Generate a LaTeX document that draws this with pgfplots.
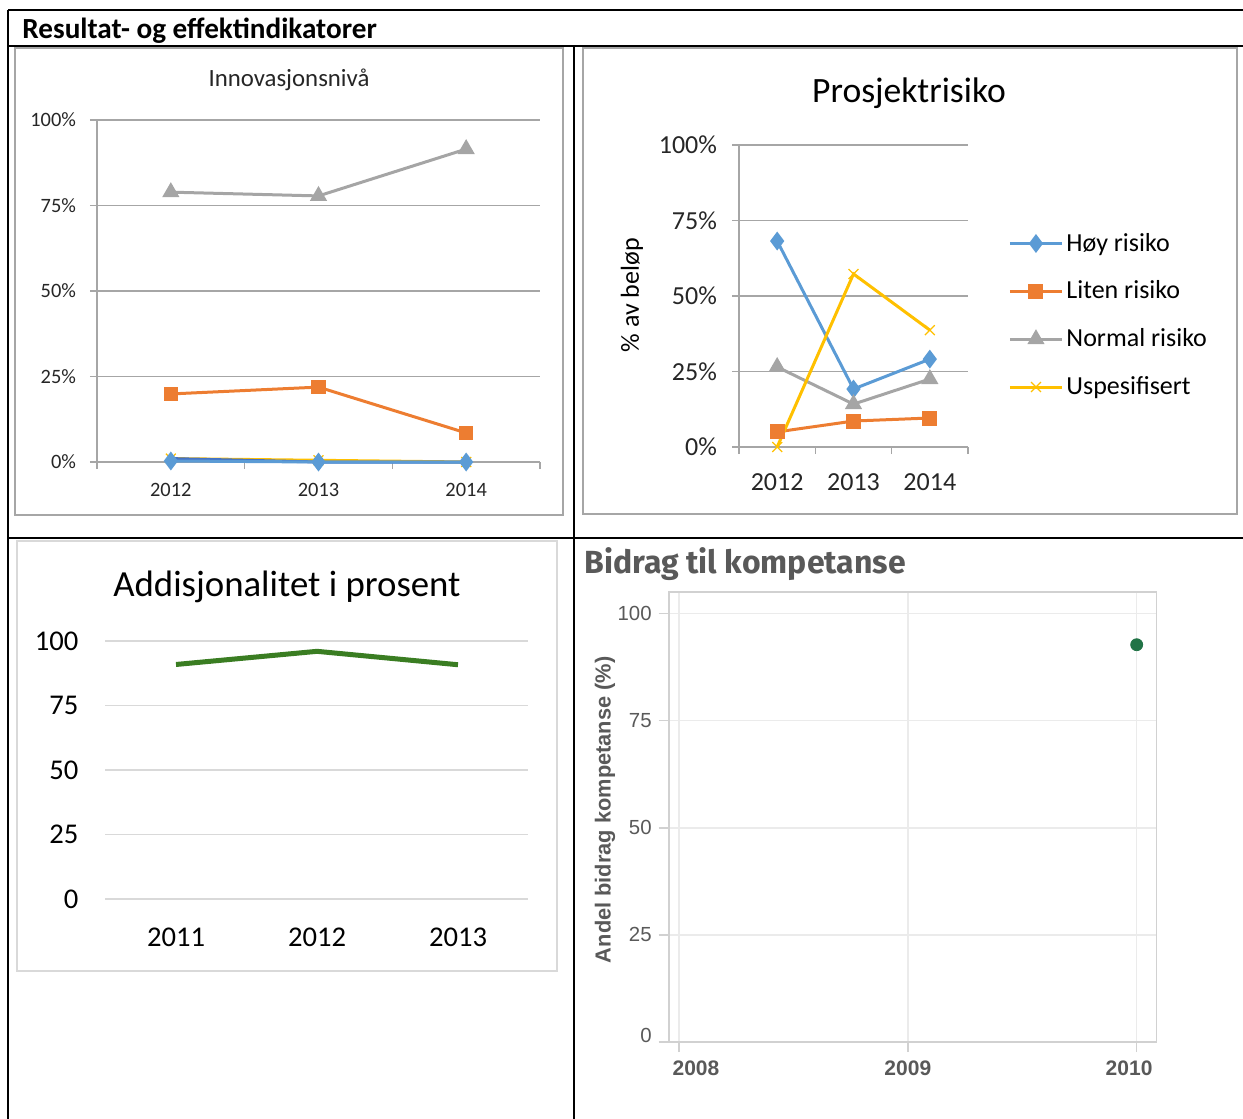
\documentclass[border=0pt]{standalone}
\usepackage{pgfplots}
\pgfplotsset{compat=1.18}
\usepackage{fontspec}
\setmainfont{Carlito}
\newfontfamily\arialfont{Liberation Sans}
\newfontfamily\firafont{Fira Sans}
\definecolor{xblue}{HTML}{5B9BD5}
\definecolor{xorange}{HTML}{ED7D31}
\definecolor{xgray}{HTML}{A5A5A5}
\definecolor{xyellow}{HTML}{FFC000}
\definecolor{xdblue}{HTML}{4472C4}
\definecolor{addgreen}{HTML}{3A7D22}
\definecolor{dotgreen}{HTML}{217346}
\definecolor{tgray}{HTML}{595959}
\definecolor{gridA}{HTML}{A6A6A6}
\newcommand{\fs}[1]{\fontsize{#1}{#1}\selectfont}
\pgfplotsset{
  xlline/.style={line width=1.5pt, mark options={solid}},
  legend image code/.code={\draw[mark repeat=2,mark phase=2,#1] plot coordinates {(0pt,0pt)(13pt,0pt)(26pt,0pt)};}
}
\begin{document}
\begin{tikzpicture}
\useasboundingbox (0,0) rectangle (621.5pt,-559.5pt);
\begin{scope}[x=0.5pt,y=-0.5pt]
 \draw[line width=1pt] (8,10) -- (1243,10);
 \draw[line width=1pt] (8,46) -- (1243,46);
 \draw[line width=1pt] (8,10) -- (8,1119);
 \draw[line width=1pt] (574,46) -- (574,1119);
 \draw[line width=1pt] (8,538) -- (1243,538);
 \draw[gridA, line width=0.6pt] (15,48) rectangle (563,515);
 \draw[gridA, line width=0.6pt] (583,48) rectangle (1237,514);
 \draw[black!15, line width=1.2pt] (17,541) rectangle (557,971);
 \node[anchor=base west, font=\bfseries\fs{14.6}, inner sep=0] at (22,38.5) {Resultat- og effektindikatorer};
 \node[font=\fs{12.4}, text=black!85] at (289,80) {Innovasjonsnivå};
 \node[font=\fs{17.8}] at (909,93) {Prosjektrisiko};
 \node[font=\fs{18.4}] at (287,587) {Addisjonalitet i prosent};
 \node[anchor=base west, font=\firafont\bfseries\fs{16}, text=tgray, inner sep=0] at (584,573) {Bidrag til kompetanse};
\end{scope}

% Panel 1
\begin{axis}[
  at={(48.5pt,-231pt)}, anchor=south west,
  scale only axis, width=221.5pt, height=171pt,
  xmin=-0.5, xmax=2.5, ymin=0, ymax=100,
  axis x line*=bottom, axis y line*=left,
  axis line style={gridA, line width=0.6pt},
  xtick={-0.5,0.5,1.5,2.5}, xticklabels={},
  extra x ticks={0,1,2}, extra x tick labels={2012,2013,2014},
  extra x tick style={major tick length=0pt},
  ytick={0,25,50,75,100}, yticklabels={0\%,25\%,50\%,75\%,100\%},
  ymajorgrids, grid style={gridA, line width=0.6pt},
  tick align=outside, major tick length=3.5pt,
  tick style={gridA, line width=0.6pt},
  tick label style={font=\fs{10.2}, text=black!85},
  xticklabel style={yshift=-7pt},
  yticklabel style={xshift=-3.5pt},
  clip=false,
]
\addplot[xyellow, xlline, mark=x, mark size=3.5pt, mark options={line width=0.6pt}] coordinates {(0,1)(1,0.5)(2,0)};
\addplot[xdblue, xlline, mark=none] coordinates {(0,1)(1,0)(2,0)};
\addplot[xblue, xlline, mark=diamond*, mark size=3.5pt] coordinates {(0,0.3)(1,0)(2,0)};
\addplot[xorange, xlline, mark=square*, mark size=2.8pt] coordinates {(0,19.9)(1,21.9)(2,8.5)};
\addplot[xgray, xlline, mark=triangle*, mark size=3.5pt] coordinates {(0,78.9)(1,77.8)(2,91.5)};
\end{axis}

% Panel 2
\begin{axis}[
  at={(369.5pt,-223.5pt)}, anchor=south west,
  scale only axis, width=114.5pt, height=151pt,
  xmin=-0.5, xmax=2.5, ymin=0, ymax=100,
  axis x line*=bottom, axis y line*=left,
  axis line style={gridA, line width=0.6pt},
  xtick={-0.5,0.5,1.5,2.5}, xticklabels={},
  extra x ticks={0,1,2}, extra x tick labels={2012,2013,2014},
  extra x tick style={major tick length=0pt},
  ytick={0,25,50,75,100}, yticklabels={0\%,25\%,50\%,75\%,100\%},
  ymajorgrids, grid style={gridA, line width=0.6pt},
  tick align=outside, major tick length=3.5pt,
  tick style={gridA, line width=0.6pt},
  tick label style={font=\fs{13}, text=black!85},
  xticklabel style={yshift=-10pt},
  yticklabel style={xshift=-4pt},
  ylabel={\% av beløp},
  ylabel style={font=\fs{13}, at={(axis description cs:-0.467,0.503)}, anchor=center, rotate=0},
  legend style={draw=none, fill=none, at={(1.175,0.72)}, anchor=north west, font=\fs{13},
    inner sep=0pt, row sep=10.4pt, nodes={inner sep=1.5pt}},
  legend cell align=left,
  clip=false,
]
\addplot[xblue, xlline, mark=diamond*, mark size=3.5pt] coordinates {(0,68.2)(1,19.2)(2,29.1)};
\addlegendentry{Høy risiko}
\addplot[xorange, xlline, mark=square*, mark size=3pt] coordinates {(0,5.0)(1,8.6)(2,9.6)};
\addlegendentry{Liten risiko}
\addplot[xgray, xlline, mark=triangle*, mark size=3.5pt] coordinates {(0,26.5)(1,14.2)(2,22.5)};
\addlegendentry{Normal risiko}
\addplot[xyellow, xlline, mark=x, mark size=3.5pt, mark options={line width=0.6pt}] coordinates {(0,0)(1,57.3)(2,38.7)};
\addlegendentry{Uspesifisert}
\end{axis}

% Panel 3
\begin{axis}[
  at={(52.75pt,-449.5pt)}, anchor=south west,
  scale only axis, width=211.5pt, height=129pt,
  xmin=-0.5, xmax=2.5, ymin=0, ymax=100,
  axis line style={draw=none},
  xtick={0,1,2}, xticklabels={2011,2012,2013},
  ytick={0,25,50,75,100}, yticklabels={0,25,50,75,100},
  ymajorgrids, grid style={black!15, line width=0.6pt},
  tick style={draw=none},
  tick label style={font=\fs{14.3}},
  xticklabel style={yshift=-11pt},
  yticklabel style={xshift=-10pt},
  clip=false,
]
\addplot[addgreen, line width=2.5pt] coordinates {(0,90.9)(1,96.0)(2,90.8)};
\end{axis}

% Panel 4
\begin{axis}[
  at={(334.35pt,-521pt)}, anchor=south west,
  scale only axis, width=243.95pt, height=225pt,
  xmin=2007.955, xmax=2010.087, ymin=0, ymax=105,
  axis line style={black!18, line width=0.8pt},
  xmajorgrids, ymajorgrids, grid style={black!8, line width=0.8pt},
  xtick={2008,2009,2010}, xticklabels={\hspace*{17pt}2008,2009,2010\hspace*{7.6pt}},
  ytick={0,25,50,75,100}, yticklabels={\raisebox{6.5pt}{0},25,50,75,100},
  tick pos=left, tick align=outside, major tick length=5pt,
  tick style={black!18, line width=0.8pt},
  xticklabel style={font=\arialfont\bfseries\fs{10.5}, text=tgray, yshift=-1pt},
  yticklabel style={font=\arialfont\fs{10.2}, text=tgray},
  ylabel={Andel bidrag kompetanse (\%)},
  ylabel style={font=\arialfont\bfseries\fs{10.9}, text=tgray, at={(axis description cs:-0.1306,0.516)}, anchor=center},
  clip=false,
]
\addplot[only marks, mark=*, mark size=3pt, dotgreen] coordinates {(2010,92.7)};
\end{axis}
\end{tikzpicture}
\end{document}
